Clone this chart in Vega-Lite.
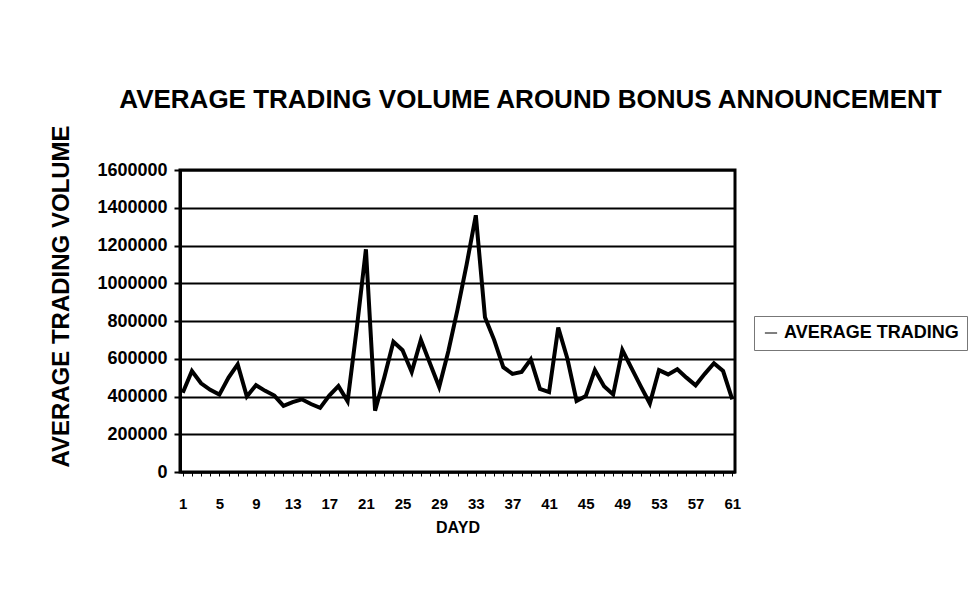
{
  "$schema": "https://vega.github.io/schema/vega-lite/v6.json",
  "width": 555,
  "height": 302,
  "autosize": {"type": "none"},
  "padding": {"left": 180, "top": 170, "right": 235, "bottom": 122},
  "background": "white",
  "title": {
    "text": "AVERAGE TRADING VOLUME AROUND BONUS ANNOUNCEMENT",
    "font": "Liberation Sans",
    "fontSize": 26,
    "fontWeight": "bold",
    "color": "black",
    "anchor": "middle",
    "dx": 73,
    "offset": 12
  },
  "data": {
    "values": [
      {"day": 1, "volume": 420000}, {"day": 2, "volume": 535000}, {"day": 3, "volume": 470000},
      {"day": 4, "volume": 435000}, {"day": 5, "volume": 410000}, {"day": 6, "volume": 500000},
      {"day": 7, "volume": 570000}, {"day": 8, "volume": 400000}, {"day": 9, "volume": 460000},
      {"day": 10, "volume": 430000}, {"day": 11, "volume": 405000}, {"day": 12, "volume": 350000},
      {"day": 13, "volume": 370000}, {"day": 14, "volume": 385000}, {"day": 15, "volume": 360000},
      {"day": 16, "volume": 340000}, {"day": 17, "volume": 405000}, {"day": 18, "volume": 455000},
      {"day": 19, "volume": 375000}, {"day": 20, "volume": 760000}, {"day": 21, "volume": 1180000},
      {"day": 22, "volume": 325000}, {"day": 23, "volume": 500000}, {"day": 24, "volume": 690000},
      {"day": 25, "volume": 645000}, {"day": 26, "volume": 530000}, {"day": 27, "volume": 700000},
      {"day": 28, "volume": 575000}, {"day": 29, "volume": 450000}, {"day": 30, "volume": 640000},
      {"day": 31, "volume": 860000}, {"day": 32, "volume": 1100000}, {"day": 33, "volume": 1360000},
      {"day": 34, "volume": 820000}, {"day": 35, "volume": 700000}, {"day": 36, "volume": 555000},
      {"day": 37, "volume": 520000}, {"day": 38, "volume": 530000}, {"day": 39, "volume": 597000},
      {"day": 40, "volume": 440000}, {"day": 41, "volume": 423000}, {"day": 42, "volume": 765000},
      {"day": 43, "volume": 600000}, {"day": 44, "volume": 376000}, {"day": 45, "volume": 402000},
      {"day": 46, "volume": 540000}, {"day": 47, "volume": 455000}, {"day": 48, "volume": 411000},
      {"day": 49, "volume": 646000}, {"day": 50, "volume": 550000}, {"day": 51, "volume": 455000},
      {"day": 52, "volume": 363000}, {"day": 53, "volume": 540000}, {"day": 54, "volume": 517000},
      {"day": 55, "volume": 544000}, {"day": 56, "volume": 500000}, {"day": 57, "volume": 459000},
      {"day": 58, "volume": 520000}, {"day": 59, "volume": 576000}, {"day": 60, "volume": 535000},
      {"day": 61, "volume": 385000}
    ]
  },
  "mark": {"type": "line", "strokeWidth": 4, "strokeJoin": "miter"},
  "encoding": {
    "x": {
      "field": "day",
      "type": "ordinal",
      "title": "DAYD",
      "scale": {"type": "point", "padding": 0.3},
      "axis": {
        "labelAngle": 0,
        "labelExpr": "(datum.value - 1) % 4 === 0 ? datum.label : ''",
        "labelFont": "Liberation Sans",
        "labelFontSize": 15,
        "labelFontWeight": "bold",
        "labelColor": "black",
        "labelPadding": 20,
        "tickSize": 4,
        "tickColor": "black",
        "tickWidth": 1,
        "domainColor": "black",
        "domainWidth": 2,
        "titleFont": "Liberation Sans",
        "titleFontSize": 16,
        "titleFontWeight": "bold",
        "titleColor": "black",
        "titlePadding": 8
      }
    },
    "y": {
      "field": "volume",
      "type": "quantitative",
      "title": "AVERAGE TRADING VOLUME",
      "scale": {"domain": [0, 1600000]},
      "axis": {
        "values": [0, 200000, 400000, 600000, 800000, 1000000, 1200000, 1400000, 1600000],
        "format": "d",
        "grid": true,
        "gridColor": "black",
        "gridWidth": 2,
        "gridOpacity": 1,
        "labelFont": "Liberation Sans",
        "labelFontSize": 18,
        "labelFontWeight": "bold",
        "labelColor": "black",
        "labelPadding": 7,
        "tickSize": 6,
        "tickColor": "black",
        "tickWidth": 2,
        "domainColor": "black",
        "domainWidth": 3,
        "titleFont": "Liberation Sans",
        "titleFontSize": 24,
        "titleFontWeight": "bold",
        "titleColor": "black",
        "titleAngle": 270,
        "titleAlign": "center",
        "titleBaseline": "middle",
        "titleX": -119,
        "titleY": 126
      }
    },
    "color": {
      "datum": "AVERAGE TRADING",
      "scale": {"range": ["black"]},
      "legend": {
        "title": null,
        "orient": "none",
        "legendX": 574,
        "legendY": 146,
        "symbolType": "stroke",
        "symbolStrokeWidth": 1,
        "symbolSize": 150,
        "labelFont": "Liberation Sans",
        "labelFontSize": 18,
        "labelFontWeight": "bold",
        "labelColor": "black",
        "labelLimit": 400,
        "strokeColor": "#777777",
        "padding": 8
      }
    }
  },
  "config": {
    "view": {"stroke": "black", "strokeWidth": 3}
  }
}
